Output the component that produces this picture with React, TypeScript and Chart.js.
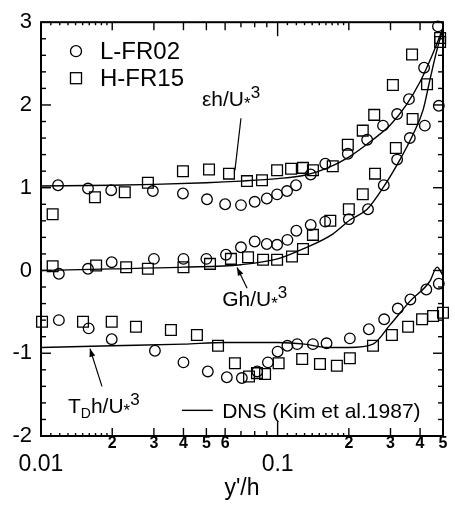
import React, { useEffect, useRef } from "react";
import { Chart, registerables } from "chart.js";
Chart.register(...registerables);

const FONT = "'Liberation Sans', Arial, Helvetica, sans-serif";

// ---- epsilon h/U*^3 ----
const epsL_x = [0.0118, 0.0158, 0.0198, 0.0297, 0.0398, 0.0503, 0.060, 0.070, 0.080, 0.090, 0.0995, 0.1096, 0.1196, 0.138, 0.159, 0.198, 0.239, 0.279, 0.320, 0.359, 0.416, 0.476];
const epsL_y = [1.03, 0.99, 0.97, 0.96, 0.93, 0.86, 0.80, 0.79, 0.83, 0.87, 0.92, 0.96, 1.03, 1.16, 1.29, 1.41, 1.58, 1.75, 1.89, 2.07, 2.45, 2.95];
const epsH_x = [0.0112, 0.0169, 0.0226, 0.0283, 0.0398, 0.0513, 0.0623, 0.0742, 0.0859, 0.0995, 0.114, 0.128, 0.141, 0.171, 0.198, 0.229, 0.256, 0.307, 0.370, 0.486];
const epsH_y = [0.68, 0.885, 0.945, 1.06, 1.20, 1.22, 1.17, 1.08, 1.09, 1.21, 1.23, 1.24, 1.21, 1.26, 1.52, 1.69, 1.88, 2.24, 2.61, 2.81];
const epsDns_x = [0.01, 0.02, 0.03, 0.05, 0.07, 0.1, 0.13, 0.16, 0.2, 0.25, 0.3, 0.35, 0.4, 0.45, 0.5];
const epsDns_y = [1.02, 1.03, 1.04, 1.06, 1.08, 1.11, 1.15, 1.23, 1.37, 1.57, 1.76, 2.0, 2.28, 2.6, 2.93];

// ---- G h/U*^3 ----
const gL_x = [0.0119, 0.0158, 0.0199, 0.030, 0.040, 0.050, 0.0605, 0.070, 0.080, 0.090, 0.0995, 0.110, 0.120, 0.138, 0.159, 0.200, 0.241, 0.281, 0.320, 0.362, 0.419, 0.48];
const gL_y = [-0.04, 0.02, 0.10, 0.14, 0.14, 0.14, 0.19, 0.28, 0.35, 0.32, 0.31, 0.37, 0.48, 0.55, 0.59, 0.62, 0.74, 1.03, 1.34, 1.60, 1.75, 1.99];
const gH_x = [0.0112, 0.0171, 0.0229, 0.0283, 0.040, 0.0518, 0.0635, 0.075, 0.0868, 0.0995, 0.115, 0.128, 0.141, 0.167, 0.200, 0.229, 0.258, 0.316, 0.372, 0.428, 0.486];
const gH_y = [0.05, 0.06, 0.04, 0.02, 0.04, 0.08, 0.14, 0.16, 0.13, 0.13, 0.17, 0.26, 0.43, 0.60, 0.74, 0.92, 1.17, 1.48, 1.83, 2.25, 2.76];
const gDns_x = [0.01, 0.02, 0.04, 0.07, 0.1, 0.128, 0.171, 0.202, 0.239, 0.279, 0.329, 0.373, 0.412, 0.44, 0.47, 0.5];
const gDns_y = [0.0, 0.02, 0.04, 0.07, 0.14, 0.26, 0.44, 0.61, 0.74, 1.0, 1.34, 1.64, 1.94, 2.3, 2.65, 2.92];

// ---- T_D h/U*^3 ----
const tdL_x = [0.0119, 0.0159, 0.0199, 0.0303, 0.040, 0.0507, 0.061, 0.0706, 0.082, 0.091, 0.100, 0.110, 0.121, 0.141, 0.161, 0.202, 0.243, 0.282, 0.322, 0.364, 0.425, 0.48];
const tdL_y = [-0.60, -0.70, -0.83, -0.97, -1.11, -1.22, -1.29, -1.30, -1.22, -1.11, -0.98, -0.91, -0.89, -0.89, -0.88, -0.82, -0.71, -0.59, -0.46, -0.35, -0.23, -0.16];
const tdH_x = [0.0101, 0.01505, 0.0199, 0.0252, 0.0354, 0.0456, 0.056, 0.066, 0.0757, 0.0818, 0.0885, 0.101, 0.127, 0.151, 0.178, 0.202, 0.253, 0.304, 0.356, 0.408, 0.454, 0.5];
const tdH_y = [-0.62, -0.62, -0.62, -0.68, -0.72, -0.78, -0.91, -1.12, -1.28, -1.24, -1.25, -1.12, -1.07, -1.13, -1.15, -1.06, -0.91, -0.78, -0.68, -0.59, -0.55, -0.51];
const tdDns_x = [0.01, 0.02, 0.04, 0.06, 0.1, 0.13, 0.16, 0.2, 0.253, 0.298, 0.363, 0.44, 0.472, 0.5];
const tdDns_y = [-0.93, -0.91, -0.89, -0.87, -0.87, -0.89, -0.93, -0.93, -0.89, -0.66, -0.37, -0.13, 0.04, -0.06];

const seriesNames = ["L-FR02", "H-FR15"];
const dnsLabel = "DNS (Kim et al.1987)";
const yTickMin = -2;
const yTickMax = 3;
const xMin = 0.01;
const xMax = 0.5;
const xTickVals = [0.01, 0.02, 0.03, 0.04, 0.05, 0.06, 0.07, 0.08, 0.09, 0.1, 0.2, 0.3, 0.4, 0.5];
const xTickLabels: (string | string[])[] = [["", "0.01"], "2", "3", "4", "5", "6", "", "", "", ["", "0.1"], "2", "3", "4", "5"];
const xMinorVals = [0.011, 0.012, 0.013, 0.014, 0.015, 0.016, 0.017, 0.018, 0.019, 0.11, 0.12, 0.13, 0.14, 0.15, 0.16, 0.17, 0.18, 0.19];

function pts(xs: number[], ys: number[]) {
  return xs.map((x, i) => ({ x, y: ys[i] }));
}

type Part = { t: string; s: number; dy?: number };
function drawParts(ctx: CanvasRenderingContext2D, x: number, y: number, parts: Part[]) {
  let cx = x;
  for (const p of parts) {
    ctx.font = `${p.s}px ${FONT}`;
    ctx.fillText(p.t, cx, y + (p.dy || 0));
    cx += ctx.measureText(p.t).width;
  }
}

export default function App() {
  const ref = useRef<HTMLCanvasElement>(null);
  useEffect(() => {
    const canvas = ref.current!;
    const framePlugin = {
      id: "frame",
      afterDraw(chart: any) {
        const { ctx, chartArea: a, scales } = chart;
        const xs = scales.x;
        const ys = scales.y;
        const X = (v: number) => xs.getPixelForValue(v);
        const Y = (v: number) => ys.getPixelForValue(v);
        const seg = (x1: number, y1: number, x2: number, y2: number) => {
          ctx.beginPath();
          ctx.moveTo(x1, y1);
          ctx.lineTo(x2, y2);
          ctx.stroke();
        };
        ctx.save();
        ctx.strokeStyle = "#000";
        ctx.fillStyle = "#000";
        ctx.lineWidth = 2;
        ctx.strokeRect(a.left, a.top, a.right - a.left, a.bottom - a.top);
        // y ticks (inward, both sides)
        ctx.lineWidth = 1.4;
        for (let i = 0; i <= 25; i++) {
          const v = yTickMin + i * 0.2;
          const p = Y(v);
          const L = i % 5 === 0 ? 10 : 5;
          seg(a.left, p, a.left + L, p);
          seg(a.right, p, a.right - L, p);
        }
        // x ticks (inward, top and bottom)
        xTickVals.forEach((v, i) => {
          if (i === 0 || i === xTickVals.length - 1) return;
          const lbl = xTickLabels[i];
          let L = 5;
          if (Array.isArray(lbl)) L = 14;
          else if (lbl !== "") L = 8;
          const p = X(v);
          seg(p, a.bottom, p, a.bottom - L);
          seg(p, a.top, p, a.top + L);
        });
        for (const v of xMinorVals) {
          const p = X(v);
          seg(p, a.bottom, p, a.bottom - 3);
          seg(p, a.top, p, a.top + 3);
        }
        // legend
        ctx.lineWidth = 1.3;
        const lx = a.left + 35;
        ctx.beginPath();
        ctx.arc(lx, a.top + 29, 5.5, 0, Math.PI * 2);
        ctx.stroke();
        ctx.strokeRect(lx - 5.5, a.top + 56 - 5.5, 11, 11);
        ctx.textBaseline = "alphabetic";
        ctx.textAlign = "left";
        ctx.font = `24px ${FONT}`;
        ctx.fillText(seriesNames[0], a.left + 59, a.top + 37);
        ctx.fillText(seriesNames[1], a.left + 59, a.top + 64);

        // annotations
        const lab = (pre: Part[], x: number, y: number) => drawParts(ctx, X(x), Y(y), pre);
        lab(
          [
            { t: "εh/U", s: 21 },
            { t: "*", s: 17, dy: 3 },
            { t: "3", s: 17, dy: -8 },
          ],
          0.0479,
          1.99
        );
        lab(
          [
            { t: "Gh/U", s: 21 },
            { t: "*", s: 17, dy: 3 },
            { t: "3", s: 17, dy: -8 },
          ],
          0.0583,
          -0.43
        );
        lab(
          [
            { t: "T", s: 21 },
            { t: "D", s: 14, dy: 5 },
            { t: "h/U", s: 21 },
            { t: "*", s: 17, dy: 3 },
            { t: "3", s: 17, dy: -8 },
          ],
          0.013,
          -1.72
        );
        ctx.font = `21px ${FONT}`;
        ctx.fillText(dnsLabel, X(0.0583), Y(-1.78));
        ctx.lineWidth = 1.4;
        seg(X(0.0394), Y(-1.69), X(0.0532), Y(-1.69));

        // leader lines / arrows
        ctx.lineWidth = 1.2;
        seg(X(0.07), Y(1.84), X(0.066), Y(1.21));
        const arrow = (x1: number, y1: number, x2: number, y2: number) => {
          const px1 = X(x1), py1 = Y(y1), px2 = X(x2), py2 = Y(y2);
          seg(px1, py1, px2, py2);
          const ang = Math.atan2(py2 - py1, px2 - px1);
          const hl = 8, hw = 3;
          ctx.beginPath();
          ctx.moveTo(px2, py2);
          ctx.lineTo(px2 - hl * Math.cos(ang) + hw * Math.sin(ang), py2 - hl * Math.sin(ang) - hw * Math.cos(ang));
          ctx.lineTo(px2 - hl * Math.cos(ang) - hw * Math.sin(ang), py2 - hl * Math.sin(ang) + hw * Math.cos(ang));
          ctx.closePath();
          ctx.fill();
        };
        arrow(0.0743, -0.215, 0.0674, 0.035);
        arrow(0.0181, -1.4, 0.0161, -0.945);
        ctx.restore();
      },
    };

    const circle = (label: string, data: any[]) => ({
      type: "scatter" as const,
      label,
      data,
      pointStyle: "circle",
      pointRadius: 5.3,
      pointBorderWidth: 1.3,
      borderColor: "#000",
      backgroundColor: "rgba(0,0,0,0)",
      showLine: false,
      clip: false,
    });
    const square = (label: string, data: any[]) => ({
      type: "scatter" as const,
      label,
      data,
      pointStyle: "rect",
      pointRadius: 7.6,
      pointBorderWidth: 1.3,
      borderColor: "#000",
      backgroundColor: "rgba(0,0,0,0)",
      showLine: false,
      clip: false,
    });
    const dns = (data: any[]) => ({
      type: "line" as const,
      label: "DNS",
      data,
      borderColor: "#000",
      borderWidth: 1.4,
      pointRadius: 0,
      fill: false,
      cubicInterpolationMode: "monotone" as const,
    });

    const chart = new Chart(canvas, {
      type: "scatter",
      data: {
        datasets: [
          circle(seriesNames[0], pts(epsL_x, epsL_y)),
          square(seriesNames[1], pts(epsH_x, epsH_y)),
          circle(seriesNames[0], pts(gL_x, gL_y)),
          square(seriesNames[1], pts(gH_x, gH_y)),
          circle(seriesNames[0], pts(tdL_x, tdL_y)),
          square(seriesNames[1], pts(tdH_x, tdH_y)),
          dns(pts(epsDns_x, epsDns_y)),
          dns(pts(gDns_x, gDns_y)),
          dns(pts(tdDns_x, tdDns_y)),
        ] as any,
      },
      options: {
        responsive: false,
        animation: false,
        devicePixelRatio: 1,
        layout: { padding: { left: 0, right: 12, top: 18, bottom: 0 } },
        plugins: { legend: { display: false }, tooltip: { enabled: false } },
        scales: {
          x: {
            type: "logarithmic",
            min: xMin,
            max: xMax,
            afterBuildTicks: (s: any) => {
              s.ticks = xTickVals.map((v) => ({ value: v }));
            },
            afterFit: (s: any) => {
              s.height = 69;
            },
            grid: { display: false, drawTicks: false },
            border: { display: false },
            title: {
              display: true,
              text: "y'/h",
              color: "#000",
              font: { family: FONT, size: 23 },
              padding: { top: 0, bottom: 3 },
            },
            ticks: {
              autoSkip: false,
              maxRotation: 0,
              minRotation: 0,
              padding: 0,
              color: "#000",
              callback: (_value: any, index: number) => xTickLabels[index],
              font: (c: any) => {
                const i = c.index ?? 1;
                return Array.isArray(xTickLabels[i])
                  ? { family: FONT, size: 23, lineHeight: 0.84 }
                  : { family: FONT, size: 16, weight: "bold", lineHeight: 1 };
              },
            },
          } as any,
          y: {
            min: yTickMin,
            max: yTickMax,
            afterFit: (s: any) => {
              s.width = 41;
            },
            grid: { display: false, drawTicks: false },
            border: { display: false },
            ticks: {
              stepSize: 1,
              padding: 9,
              color: "#000",
              font: { family: FONT, size: 22 },
            },
          },
        },
      },
      plugins: [framePlugin],
    });
    return () => chart.destroy();
  }, []);

  return (
    <div style={{ position: "absolute", left: 0, top: 0, width: 455, height: 505, background: "#fff" }}>
      <canvas ref={ref} width={455} height={505} style={{ display: "block" }} />
    </div>
  );
}
